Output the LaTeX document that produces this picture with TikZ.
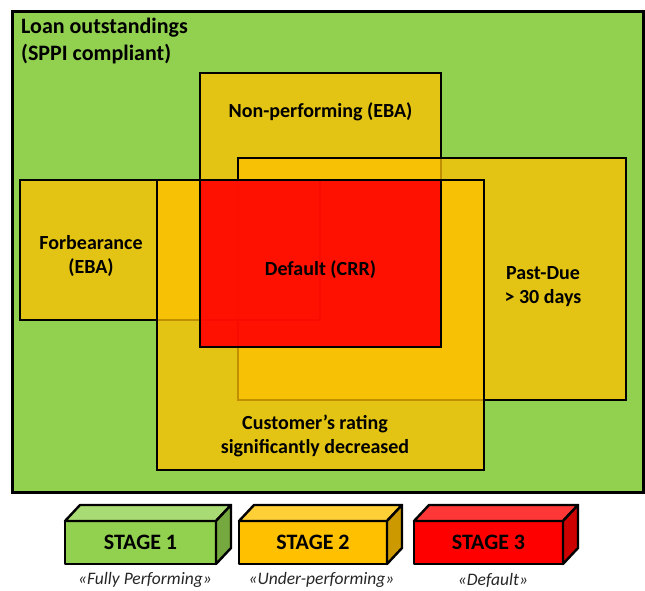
\documentclass[tikz,border=0pt]{standalone}
\usepackage{fontspec}
\setmainfont{Carlito}
\usetikzlibrary{calc}
\definecolor{grn}{RGB}{146,208,80}
\definecolor{grntop}{RGB}{169,219,116}
\definecolor{grnside}{RGB}{117,168,62}
\definecolor{org}{RGB}{255,192,0}
\definecolor{orgtop}{RGB}{255,207,55}
\definecolor{orgside}{RGB}{204,154,0}
\definecolor{rd}{RGB}{255,0,0}
\definecolor{rdtop}{RGB}{255,55,55}
\definecolor{rdside}{RGB}{204,0,0}
\tikzset{
  bx/.style={draw=black, line width=2.2pt, inner sep=0pt, outer sep=0pt, anchor=north west, line join=miter},
  ybox/.style={bx, fill=org, fill opacity=0.75},
  rbox/.style={bx, fill=rd, fill opacity=0.91},
  lbl/.style={font=\fontsize{20}{24}\selectfont\bfseries, align=center, inner sep=0pt, text=black},
  stagefront/.style={draw=black, line width=2.4pt, inner sep=0pt, outer sep=0pt, anchor=north west,
     minimum height=43pt, font=\fontsize{22}{26}\selectfont\bfseries, line join=round},
  face/.style={draw=black, line width=2.4pt, line join=round},
  captxt/.style={font=\fontsize{17.5}{21}\selectfont\itshape, inner sep=0pt, text=black!85}
}
\begin{document}
\begin{tikzpicture}[x=1pt,y=-1pt]
\useasboundingbox (0,0) rectangle (645,590);
% outer area
\node[draw=black, line width=3pt, fill=grn, inner sep=0pt, outer sep=0pt, anchor=north west,
      minimum width=631pt, minimum height=481pt] (outer) at (12,11) {};
% overlapping boxes
\node[ybox, minimum width=241pt, minimum height=274pt] (np) at (200,73) {};
\node[ybox, minimum width=388pt, minimum height=242pt] (pd) at (238,158) {};
\node[ybox, minimum width=300pt, minimum height=140pt] (fb) at (20,180) {};
\node[ybox, minimum width=327pt, minimum height=290pt] (cr) at (157,180) {};
\node[rbox, minimum width=241pt, minimum height=167pt] (df) at (200,180) {};
% labels
\node[anchor=north west, inner sep=0pt, align=left, font=\fontsize{22}{27}\selectfont\bfseries] (title) at (21,18)
  {Loan outstandings\\(SPPI compliant)};
\node[lbl] (nptext) at (320.5,111.5) {Non-performing (EBA)};
\node[lbl] (fbtext) at (91,256) {Forbearance\\(EBA)};
\node[lbl] (dftext) at (320.5,270) {Default (CRR)};
\node[lbl] (pdtext) at (543,287) {Past-Due\\> 30 days};
\node[lbl] (crtext) at (315,435.5) {Customer’s rating\\significantly decreased};
% legend
\foreach \nm/\xx/\ww/\cf/\ct/\cs/\txt in {s1/65/151/grn/grntop/grnside/STAGE 1, s2/239/148/org/orgtop/orgside/STAGE 2, s3/414/149/rd/rdtop/rdside/STAGE 3}{
  \node[stagefront, fill=\cf, minimum width=\ww pt] (\nm) at (\xx,521) {\txt};
  \draw[face, fill=\ct] (\nm.north west) -- ++(15,-16) -- ($(\nm.north east)+(15,-16)$) -- (\nm.north east) -- cycle;
  \draw[face, fill=\cs] (\nm.north east) -- ++(15,-16) -- ++(0,43) -- (\nm.south east) -- cycle;
}
\node[captxt] (c1) at (145,580) {«Fully Performing»};
\node[captxt] (c2) at (321.5,580) {«Under-performing»};
\node[captxt] (c3) at (493,580) {«Default»};
\end{tikzpicture}
\end{document}
